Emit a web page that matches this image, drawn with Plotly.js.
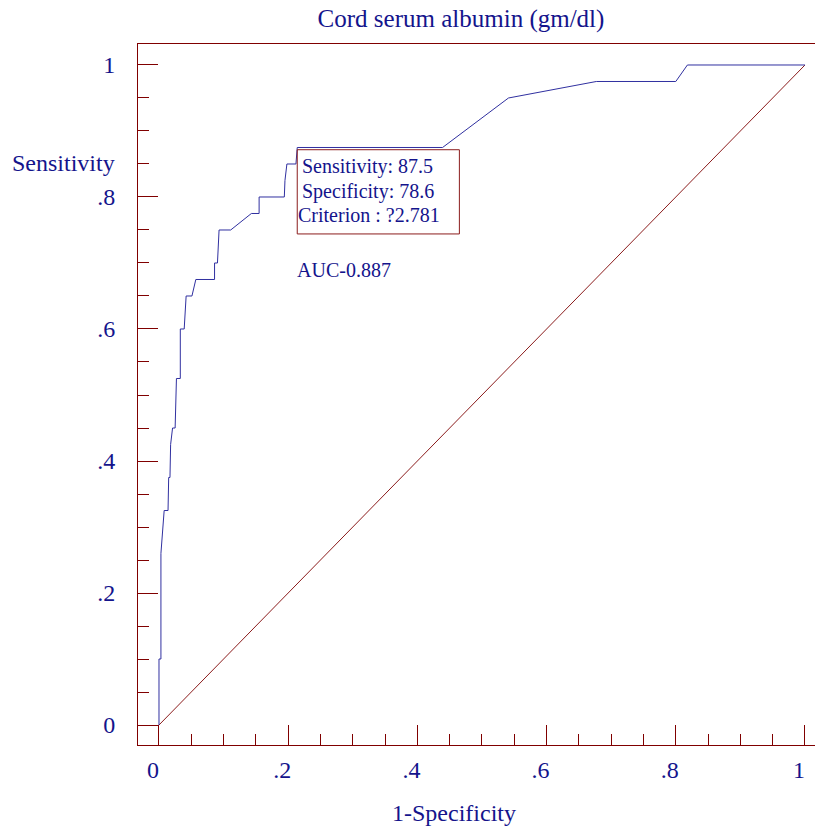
<!DOCTYPE html>
<html>
<head>
<meta charset="utf-8">
<script src="https://cdn.plot.ly/plotly-3.0.1.min.js"></script>
<style>html,body{margin:0;padding:0;background:#fff;}#chart{width:815px;height:826px;}</style>
</head>
<body>
<div id="chart"></div>
<script>
// ROC curve points (1-Specificity, Sensitivity)
const rocX = [0, 0, 0.003, 0.003, 0.008, 0.014, 0.015, 0.017, 0.018, 0.021, 0.025, 0.027, 0.033, 0.033, 0.039, 0.040, 0.042, 0.051, 0.057, 0.086, 0.086, 0.0905, 0.093, 0.111, 0.143, 0.155, 0.155, 0.194, 0.195, 0.198, 0.212, 0.214, 0.439, 0.541, 0.677, 0.800, 0.818, 1.0];
const rocY = [0, 0.1, 0.1, 0.26, 0.325, 0.325, 0.375, 0.375, 0.425, 0.45, 0.45, 0.525, 0.525, 0.6, 0.6, 0.625, 0.65, 0.65, 0.675, 0.675, 0.7, 0.7, 0.75, 0.75, 0.775, 0.775, 0.8, 0.8, 0.825, 0.85, 0.85, 0.875, 0.875, 0.95, 0.975, 0.975, 1.0, 1.0];
// reference diagonal
const diagX = [0, 1];
const diagY = [0, 1];
// tick labels
const tickVals = [0, 0.2, 0.4, 0.6, 0.8, 1];
const tickText = ['0', '.2', '.4', '.6', '.8', '1'];
// texts
const titleText = 'Cord serum albumin (gm/dl)';
const xTitle = '1-Specificity';
const yTitle = 'Sensitivity';
const boxLines = ['Sensitivity: 87.5', 'Specificity: 78.6', 'Criterion : ?2.781'];
const aucText = 'AUC-0.887';

const FONT = '"Liberation Serif", "Times New Roman", serif';
const NAVY = '#14148c';
const MAROON = '#800000';

const traces = [
  {x: diagX, y: diagY, mode: 'lines', line: {color: '#8b1c1c', width: 1}, hoverinfo: 'skip', showlegend: false},
  {x: rocX, y: rocY, mode: 'lines', line: {color: '#3030a0', width: 1}, showlegend: false}
];

const axisCommon = {
  showgrid: false, zeroline: false, showline: true, linecolor: MAROON, linewidth: 1,
  ticks: 'inside', ticklen: 20, tickwidth: 1, tickcolor: MAROON,
  tickmode: 'array', tickvals: tickVals, ticktext: tickText,
  tickfont: {family: FONT, size: 24, color: NAVY},
  minor: {ticks: 'inside', ticklen: 11, tickwidth: 1, tickcolor: MAROON, dtick: 0.05, tick0: 0, showgrid: false},
  fixedrange: true
};

const annotations = [
  {xref: 'paper', yref: 'paper', x: (10 - 138) / 677, y: (745 - 163) / 701, xanchor: 'left', yanchor: 'middle', text: yTitle, showarrow: false, font: {family: FONT, size: 24, color: NAVY}},
  {xref: 'paper', yref: 'paper', x: (454 - 138) / 677, y: (745 - 813) / 701, xanchor: 'center', yanchor: 'middle', text: xTitle, showarrow: false, font: {family: FONT, size: 24, color: NAVY}},
  {xref: 'x', yref: 'y', x: 0.218, y: 0.8455, xanchor: 'left', yanchor: 'middle', text: boxLines[0], showarrow: false, font: {family: FONT, size: 20, color: NAVY}},
  {xref: 'x', yref: 'y', x: 0.218, y: 0.809, xanchor: 'left', yanchor: 'middle', text: boxLines[1], showarrow: false, font: {family: FONT, size: 20, color: NAVY}},
  {xref: 'x', yref: 'y', x: 0.2115, y: 0.7725, xanchor: 'left', yanchor: 'middle', text: boxLines[2], showarrow: false, font: {family: FONT, size: 20, color: NAVY}},
  {xref: 'x', yref: 'y', x: 0.2105, y: 0.690, xanchor: 'left', yanchor: 'middle', text: aucText, showarrow: false, font: {family: FONT, size: 20, color: NAVY}}
];

const layout = {
  width: 815, height: 826,
  margin: {l: 138, r: 0, t: 44, b: 81, pad: 0},
  paper_bgcolor: '#ffffff', plot_bgcolor: '#ffffff',
  title: {text: titleText, font: {family: FONT, size: 25, color: NAVY}, xref: 'container', yref: 'container', x: 461 / 815, xanchor: 'center', y: 1 - 18 / 826, yanchor: 'middle'},
  xaxis: Object.assign({}, axisCommon, {range: [-0.0325, 1.0155], mirror: true, ticklabelstandoff: 3, ticklabelshift: -6}),
  yaxis: Object.assign({}, axisCommon, {range: [-0.0303, 1.0318], mirror: false, ticklabelstandoff: 17}),
  shapes: [
    {type: 'rect', xref: 'x', yref: 'y', x0: 0.214, x1: 0.465, y0: 0.744, y1: 0.8716, line: {color: '#8b1c1c', width: 1}, fillcolor: 'rgba(0,0,0,0)', layer: 'above'}
  ],
  annotations: annotations,
  showlegend: false
};

Plotly.newPlot('chart', traces, layout, {displayModeBar: false, staticPlot: true});
</script>
</body>
</html>
